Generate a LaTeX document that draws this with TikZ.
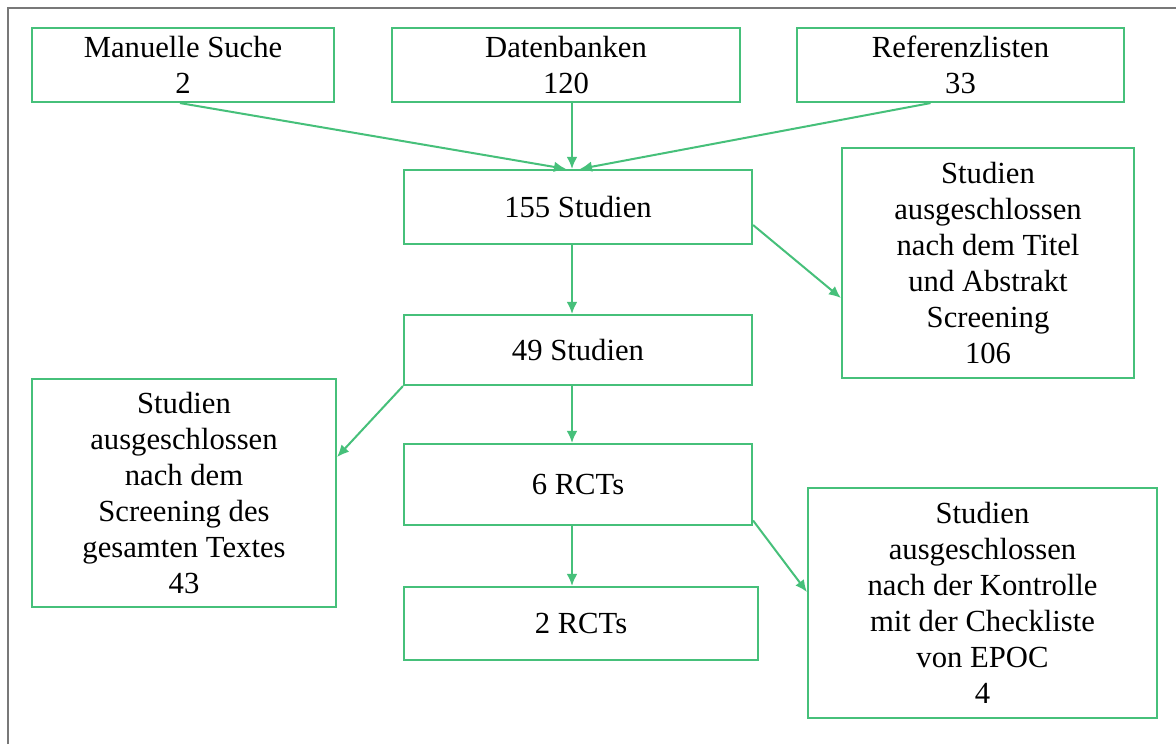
\documentclass[tikz,border=0pt]{standalone}
\usepackage{fontspec}
\setmainfont{Liberation Serif}
\usetikzlibrary{arrows.meta}
\definecolor{gc}{RGB}{70,192,122}
\definecolor{fr}{RGB}{120,120,120}
\tikzset{
  box/.style={draw=gc, line width=1.6pt, align=center, inner sep=0pt,
    font=\fontsize{23}{27}\selectfont, text=black},
  arr/.style={draw=gc, line width=1.5pt, -{Latex[length=9pt,width=8pt]}},
}
\begin{document}
\begin{tikzpicture}[x=0.75pt,y=-0.75pt]
\useasboundingbox (0,0) rectangle (1176,744);
\fill[white] (0,0) rectangle (1176,744);
\draw[fr, line width=1.6pt] (8,744) -- (8,8) -- (1176,8);

\node[box, minimum width={302*0.75pt}, minimum height={74*0.75pt}] (m) at (183,65) {Manuelle Suche\\2};
\node[box, minimum width={348*0.75pt}, minimum height={74*0.75pt}] (d) at (566,65) {Datenbanken\\120};
\node[box, minimum width={327*0.75pt}, minimum height={74*0.75pt}] (r) at (960.5,65) {Referenzlisten\\33};

\node[box, minimum width={348*0.75pt}, minimum height={74*0.75pt}] (s155) at (578,207) {155 Studien};
\node[box, minimum width={292*0.75pt}, minimum height={230*0.75pt}] (x1) at (988,263) {Studien\\ausgeschlossen\\nach dem Titel\\und Abstrakt\\Screening\\106};

\node[box, minimum width={348*0.75pt}, minimum height={70*0.75pt}] (s49) at (578,350) {49 Studien};
\node[box, minimum width={304*0.75pt}, minimum height={228*0.75pt}] (x2) at (184,493) {Studien\\ausgeschlossen\\nach dem\\Screening des\\gesamten Textes\\43};

\node[box, minimum width={348*0.75pt}, minimum height={81*0.75pt}] (r6) at (578,484.5) {6 RCTs};
\node[box, minimum width={354*0.75pt}, minimum height={73*0.75pt}] (r2) at (581,623.5) {2 RCTs};
\node[box, minimum width={349*0.75pt}, minimum height={230*0.75pt}] (x3) at (982.5,603) {Studien\\ausgeschlossen\\nach der Kontrolle\\mit der Checkliste\\von EPOC\\4};

\draw[arr] ([xshift={-3*0.75pt}]m.south) -- ([xshift={-12*0.75pt}]s155.north);
\draw[arr] ([xshift={6*0.75pt}]d.south) -- ([xshift={-6*0.75pt}]s155.north);
\draw[arr] ([xshift={-30*0.75pt}]r.south) -- ([xshift={2*0.75pt}]s155.north);

\draw[arr] ([xshift={-6*0.75pt}]s155.south) -- ([xshift={-6*0.75pt}]s49.north);
\draw[arr] ([yshift={-18*0.75pt}]s155.east) -- ([yshift={-35*0.75pt}]x1.west);

\draw[arr] (s49.south west) -- ([yshift={36*0.75pt}]x2.east);
\draw[arr] ([xshift={-6*0.75pt}]s49.south) -- ([xshift={-6*0.75pt}]r6.north);

\draw[arr] ([xshift={-6*0.75pt}]r6.south) -- ([xshift={-9*0.75pt}]r2.north);
\draw[arr] ([yshift={-36*0.75pt}]r6.east) -- ([yshift={11*0.75pt}]x3.west);
\end{tikzpicture}
\end{document}
